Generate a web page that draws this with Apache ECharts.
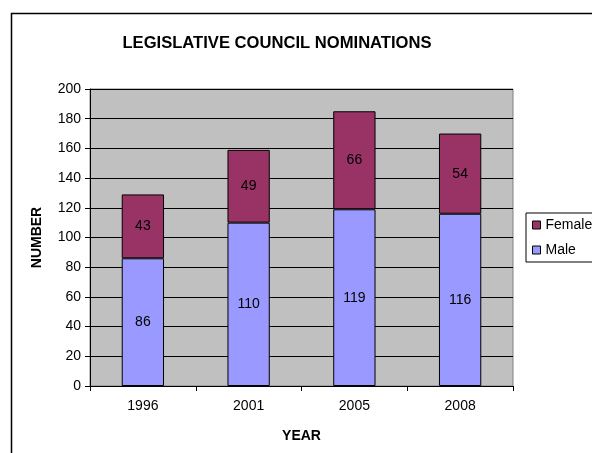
<!DOCTYPE html>
<html>
<head>
<meta charset="utf-8">
<script src="https://cdn.jsdelivr.net/npm/echarts@6/dist/echarts.min.js"></script>
<style>
html,body{margin:0;padding:0;background:#fff;}
#chart{width:592px;height:453px;}
</style>
</head>
<body>
<div id="chart"></div>
<script>
var categories = ['1996', '2001', '2005', '2008'];
var maleValues = [86, 110, 119, 116];
var femaleValues = [43, 49, 66, 54];
var yTicks = {min: 0, max: 200, interval: 20};

var font = '"Liberation Sans", Arial, sans-serif';
var chart = echarts.init(document.getElementById('chart'));
chart.setOption({
  animation: false,
  backgroundColor: '#ffffff',
  textStyle: {fontFamily: font},
  title: {
    text: 'LEGISLATIVE COUNCIL NOMINATIONS',
    left: 272, top: 30, textAlign: 'center',
    textStyle: {fontFamily: font, fontSize: 16.6, fontWeight: 'bold', color: '#000'}
  },
  graphic: [{
    type: 'rect', left: 9, top: 11, silent: true, z: -10,
    shape: {x: 0, y: 0, width: 700, height: 600},
    style: {fill: 'none', stroke: '#000', lineWidth: 1.5}
  }],
  legend: {
    data: ['Female', 'Male'],
    orient: 'vertical',
    left: 526, top: 213,
    padding: [5, 40, 5, 6],
    itemWidth: 8, itemHeight: 8, itemGap: 11,
    icon: 'rect',
    borderColor: '#000', borderWidth: 1,
    backgroundColor: '#fff',
    textStyle: {fontFamily: font, fontSize: 14, color: '#000', padding: [0, 0, 0, 0]},
    itemStyle: {borderColor: '#000', borderWidth: 1}
  },
  grid: {
    left: 90, top: 89, right: 79, bottom: 67,
    show: true, backgroundColor: '#C0C0C0', borderColor: '#808080', borderWidth: 1
  },
  xAxis: {
    type: 'category', data: categories,
    name: 'YEAR', nameLocation: 'middle', nameGap: 43,
    nameTextStyle: {fontFamily: font, fontSize: 14, fontWeight: 'bold', color: '#000'},
    axisLine: {lineStyle: {color: '#000', width: 1}},
    axisTick: {show: true, length: 5, lineStyle: {color: '#000'}},
    axisLabel: {fontFamily: font, fontSize: 14, color: '#000', margin: 13}
  },
  yAxis: {
    type: 'value', min: yTicks.min, max: yTicks.max, interval: yTicks.interval,
    name: 'NUMBER', nameLocation: 'middle', nameGap: 46,
    nameTextStyle: {fontFamily: font, fontSize: 14, fontWeight: 'bold', color: '#000'},
    axisLine: {show: true, lineStyle: {color: '#000', width: 1}},
    axisTick: {show: true, length: 5, lineStyle: {color: '#000'}},
    axisLabel: {fontFamily: font, fontSize: 14, color: '#000', margin: 9},
    splitLine: {show: true, lineStyle: {color: '#000', width: 1}}
  },
  series: [{
    name: 'Male', type: 'bar', stack: 'total', data: maleValues,
    barWidth: '40%',
    itemStyle: {color: '#9999FF', borderColor: '#000', borderWidth: 1},
    label: {show: true, position: 'inside', fontFamily: font, fontSize: 14, color: '#000'}
  }, {
    name: 'Female', type: 'bar', stack: 'total', data: femaleValues,
    barWidth: '40%',
    itemStyle: {color: '#993366', borderColor: '#000', borderWidth: 1},
    label: {show: true, position: 'inside', fontFamily: font, fontSize: 14, color: '#000'}
  }]
});
</script>
</body>
</html>
